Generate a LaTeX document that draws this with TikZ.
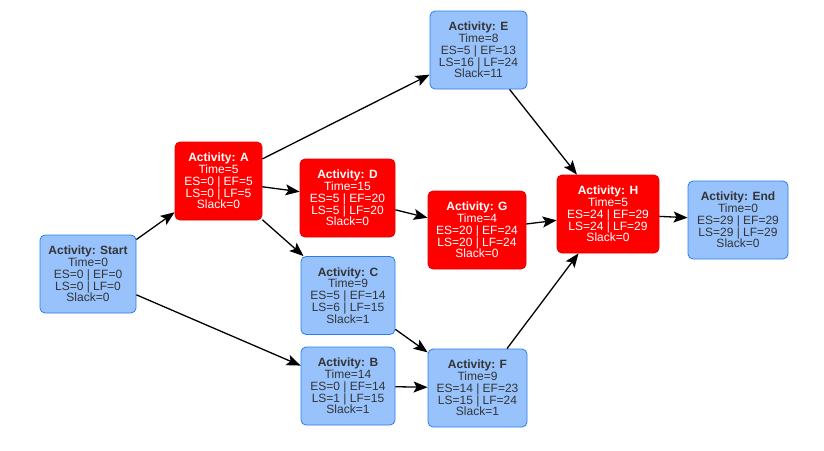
\documentclass[tikz,border=0pt]{standalone}
\usepackage{fontspec}
\setmainfont{Liberation Sans}
\usetikzlibrary{arrows.meta}
\definecolor{bfill}{HTML}{97C2FC}
\definecolor{bdraw}{HTML}{2B7CE9}
\definecolor{rfill}{HTML}{FF0000}
\definecolor{rdraw}{HTML}{DD0000}
\definecolor{txt}{HTML}{343434}
\begin{document}
\begin{tikzpicture}[x=1pt,y=-1pt,
  act/.style={rounded corners=5pt, minimum height=78pt, inner sep=0pt, align=center,
    font=\fontsize{12}{11.8}\selectfont},
  normal/.style={act, fill=bfill, draw=bdraw, line width=0.8pt, text=txt},
  crit/.style={act, fill=rfill, draw=rdraw, line width=0.8pt, text=white},
  link/.style={draw=black, line width=1.3pt, -{Stealth[length=14pt,width=11pt,inset=3pt]}}
]
\useasboundingbox (0,0) rectangle (824,450);
\node[normal, minimum width=96pt] (start) at (88,274) {\textbf{Activity: Start}\\Time=0\\ES=0 | EF=0\\LS=0 | LF=0\\Slack=0};
\node[crit, minimum width=87pt] (a) at (218.5,181) {\textbf{Activity: A}\\Time=5\\ES=0 | EF=5\\LS=0 | LF=5\\Slack=0};
\node[crit, minimum width=95pt] (d) at (347.5,198) {\textbf{Activity: D}\\Time=15\\ES=5 | EF=20\\LS=5 | LF=20\\Slack=0};
\node[normal, minimum width=97pt] (e) at (478.5,50) {\textbf{Activity: E}\\Time=8\\ES=5 | EF=13\\LS=16 | LF=24\\Slack=11};
\node[normal, minimum width=94pt] (c) at (348,295.5) {\textbf{Activity: C}\\Time=9\\ES=5 | EF=14\\LS=6 | LF=15\\Slack=1};
\node[normal, minimum width=94pt] (b) at (348,386) {\textbf{Activity: B}\\Time=14\\ES=0 | EF=14\\LS=1 | LF=15\\Slack=1};
\node[crit, minimum width=98pt] (g) at (477,230) {\textbf{Activity: G}\\Time=4\\ES=20 | EF=24\\LS=20 | LF=24\\Slack=0};
\node[normal, minimum width=99pt] (f) at (477.5,388) {\textbf{Activity: F}\\Time=9\\ES=14 | EF=23\\LS=15 | LF=24\\Slack=1};
\node[crit, minimum width=102pt] (h) at (608,214) {\textbf{Activity: H}\\Time=5\\ES=24 | EF=29\\LS=24 | LF=29\\Slack=0};
\node[normal, minimum width=100pt] (end) at (738,220) {\textbf{Activity: End}\\Time=0\\ES=29 | EF=29\\LS=29 | LF=29\\Slack=0};
\draw[link] (start) -- (a);
\draw[link] (start) -- (b);
\draw[link] (a) -- (e);
\draw[link] (a) -- (d);
\draw[link] (a) -- (c);
\draw[link] (d) -- (g);
\draw[link] (c) -- (f);
\draw[link] (b) -- (f);
\draw[link] (e) -- (h);
\draw[link] (g) -- (h);
\draw[link] (f) -- (h);
\draw[link] (h) -- (end);
\end{tikzpicture}
\end{document}
